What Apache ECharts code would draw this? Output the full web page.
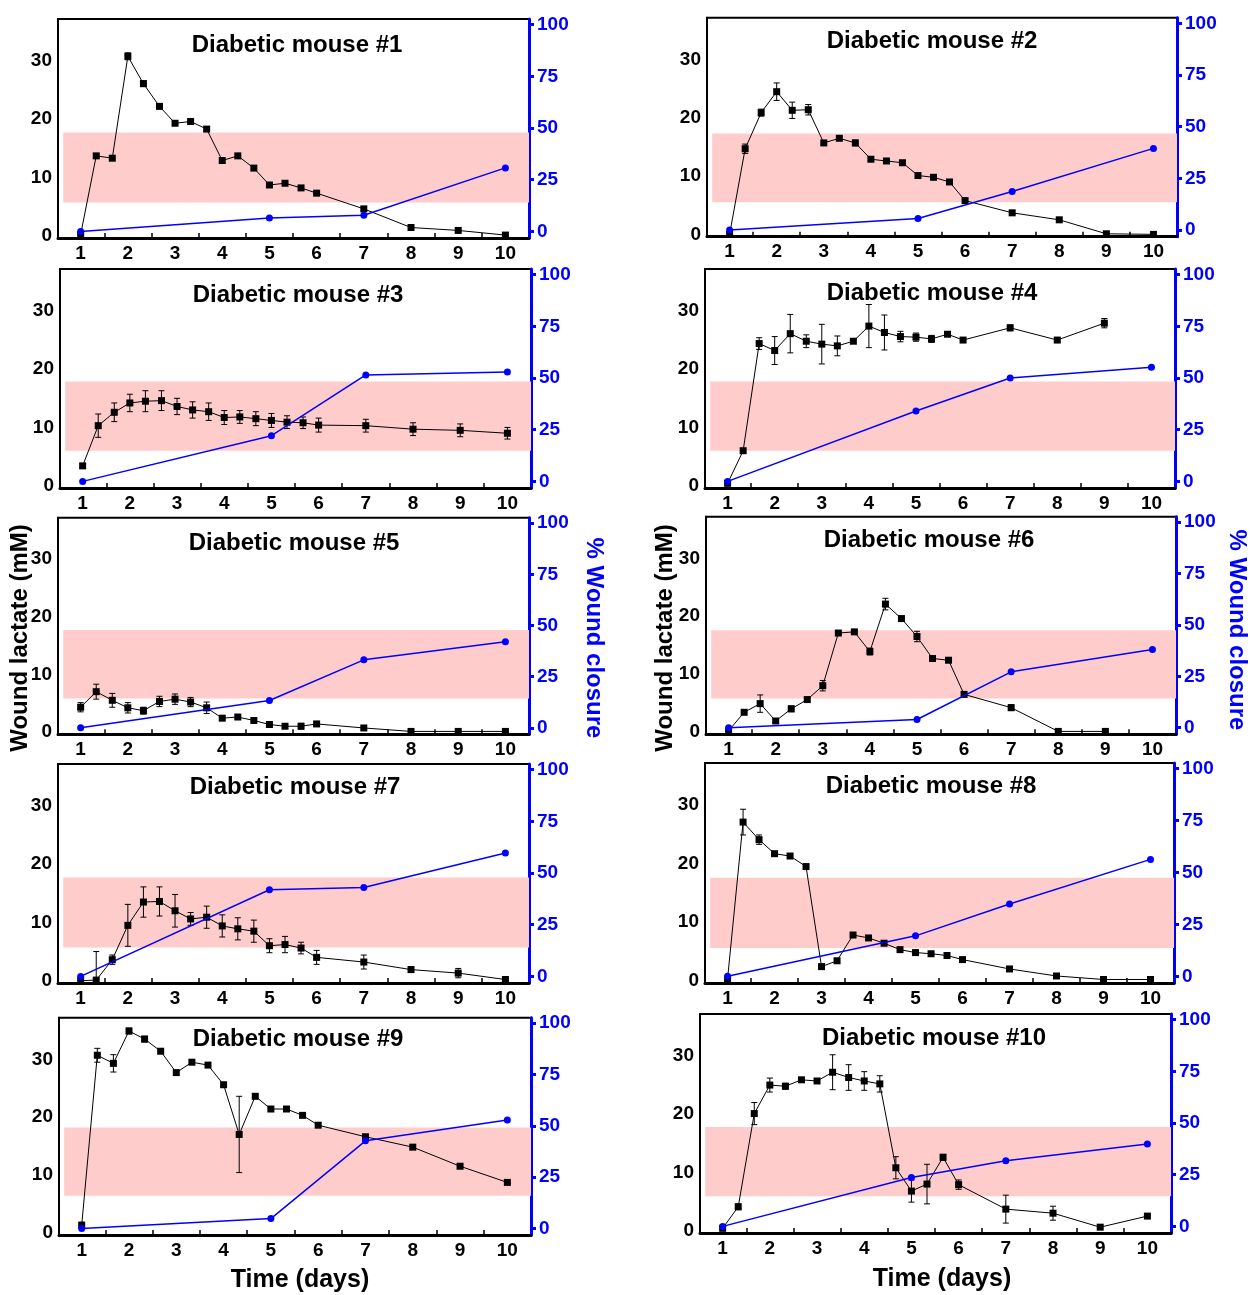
<!DOCTYPE html>
<html><head><meta charset="utf-8">
<script src="https://cdn.jsdelivr.net/npm/echarts@6/dist/echarts.min.js"></script>
<style>html,body{margin:0;padding:0;background:#fff}#c{width:1250px;height:1295px}</style>
</head><body><div id="c"></div>
<script>
// ---------------- data ----------------
const days = [1, 1.33, 1.67, 2, 2.33, 2.67, 3, 3.33, 3.67, 4, 4.33, 4.67, 5, 5.33, 5.67, 6, 7, 8, 9, 10];
const closureDays = [1, 5, 7, 10];
const xTickLabels = [1, 2, 3, 4, 5, 6, 7, 8, 9, 10];
const leftTickLabels = [0, 10, 20, 30];
const rightTickLabels = [0, 25, 50, 75, 100];
const titles = ['Diabetic mouse #1','Diabetic mouse #2','Diabetic mouse #3','Diabetic mouse #4','Diabetic mouse #5',
                'Diabetic mouse #6','Diabetic mouse #7','Diabetic mouse #8','Diabetic mouse #9','Diabetic mouse #10'];

const lactate1 = [0.2,13.7,13.3,30.8,26.1,22.2,19.3,19.6,18.3,12.9,13.7,11.6,8.7,9.0,8.2,7.3,4.6,1.4,0.9,0.1];
const err1     = [0,0.3,0.3,0.6,0.5,0.3,0.3,0.2,0.3,0.3,0.3,0.3,0.3,0.2,0.2,0.2,0.3,0.2,0.2,0.1];
const closure1 = [0,6.5,7.8,30.7];

const lactate2 = [0,14.7,20.9,24.5,21.3,21.4,15.7,16.5,15.7,12.9,12.6,12.3,10.1,9.8,9.0,5.8,3.7,2.5,0.1,0];
const err2     = [0,0.8,0.6,1.5,1.4,0.9,0.4,0.3,0.5,0.3,0.3,0.3,0.3,0.3,0.3,0.3,0.3,0.3,0.1,0.1];
const closure2 = [0,5.6,18.7,39.5];

const lactate3 = [3.4,10.3,12.6,14.2,14.5,14.6,13.6,13.0,12.7,11.7,11.8,11.5,11.2,10.9,10.8,10.4,10.3,9.7,9.5,9.0];
const err3     = [0.3,2.0,1.6,1.5,1.8,1.7,1.4,1.4,1.5,1.2,1.1,1.2,1.2,1.1,1.0,1.2,1.1,1.1,1.1,1.0];
const closure3 = [0,22.1,51.5,52.9];

const lactate4 = [0.4,6.0,24.4,23.2,26.1,24.8,24.3,24.0,24.8,27.4,26.3,25.6,25.5,25.2,26.0,25.0,27.1,25.0,27.9,null];
const err4     = [0,0.2,1.0,2.4,3.3,1.1,3.4,1.7,0.3,3.7,3.0,0.9,0.7,0.6,0.3,0.3,0.5,0.3,0.8,null];
const closure4 = [0,34.0,50.0,55.2];

const lactate5 = [4.3,7.0,5.5,4.2,3.7,5.3,5.7,5.2,4.2,2.4,2.6,2.0,1.3,1.0,1.0,1.4,0.7,0.1,0.1,0.1];
const err5     = [0.8,1.3,1.2,0.9,0.6,0.9,0.9,0.8,1.0,0.3,0.3,0.2,0.2,0.2,0.5,0.2,0.2,0.1,0.1,0.1];
const closure5 = [0,13.3,33.2,42.1];

const lactate6 = [0.2,3.4,4.9,1.9,4.0,5.6,8.0,17.1,17.3,13.9,22.1,19.6,16.5,12.7,12.4,6.5,4.2,0.1,0.1,null];
const err6     = [0.1,0.3,1.5,0.3,0.5,0.3,0.9,0.3,0.3,0.6,1.0,0.3,0.9,0.3,0.3,0.3,0.5,0.1,0.1,null];
const closure6 = [0,4.0,27.2,38.1];

const lactate7 = [0,0.1,3.6,9.5,13.5,13.6,12.0,10.6,10.9,9.4,8.9,8.5,6.0,6.2,5.6,4.0,3.2,1.9,1.3,0.2];
const err7     = [0,4.9,0.8,3.6,2.6,2.5,2.8,1.1,1.9,1.9,1.9,1.9,1.2,1.4,1.0,1.2,1.2,0.5,0.8,0.2];
const closure7 = [0,41.9,43.0,59.7];

const lactate8 = [0.3,27.1,24.1,21.7,21.3,19.5,2.4,3.4,7.8,7.3,6.4,5.3,4.8,4.6,4.3,3.6,2.0,0.8,0.2,0.2];
const err8     = [0,2.2,0.8,0.3,0.3,0.3,0.3,0.3,0.3,0.3,0.3,0.3,0.3,0.3,0.3,0.3,0.4,0.2,0.1,0.1];
const closure8 = [0,19.5,34.8,56.3];

const lactate9 = [1.3,30.7,29.3,34.9,33.5,31.4,27.7,29.5,29.0,25.6,17.0,23.6,21.4,21.4,20.3,18.6,16.6,14.8,11.5,8.7];
const err9     = [0.5,1.2,1.5,0.5,0.5,0.4,0.3,0.3,0.3,0.3,6.6,0.3,0.3,0.3,0.3,0.3,0.3,0.2,0.2,0.2];
const closure9 = [0,4.8,42.7,52.8];

const lactate10 = [0.4,4.1,20.1,25.0,24.8,25.9,25.7,27.2,26.3,25.7,25.2,10.8,6.8,8.0,12.6,7.9,3.7,3.0,0.6,2.5];
const err10     = [0.2,0.5,1.9,1.2,0.5,0.3,0.3,3.0,2.2,1.6,1.4,1.9,1.9,3.4,0.5,0.8,2.4,1.2,0.3,0.3];
const closure10 = [0,23.6,31.7,39.8];

const bandLow  = [5.7,5.5,6.0,6.0,5.8,5.8,5.7,5.6,6.4,5.9];
const bandHigh = [17.7,17.3,17.9,17.9,17.7,17.6,17.7,17.6,18.2,17.8];

const lactates = [lactate1,lactate2,lactate3,lactate4,lactate5,lactate6,lactate7,lactate8,lactate9,lactate10];
const errs = [err1,err2,err3,err4,err5,err6,err7,err8,err9,err10];
const closures = [closure1,closure2,closure3,closure4,closure5,closure6,closure7,closure8,closure9,closure10];

// ---------------- layout ----------------
const boxes = [
  [58,19,529,238],[707,17.7,1177,236.7],
  [60,269,531,488],[705,269,1175,488],
  [58,517.7,529,734.3],[706,516.7,1176,734.3],
  [58,764,529,983],[705,763,1174,983],
  [59,1017.7,531,1235],[700,1014,1171,1233]
];
const titleX = [297,932,298,932,294,929,295,931,298,934];
const titleOffsets = [26,24,26,24,26,24,23,23,22,24];

const FONT = '"Liberation Sans", Arial, sans-serif';
const BLUE = '#0000FF';
const grids = [], xAxes = [], yAxes = [], series = [], graphics = [];

function errRender(params, api) {
  const x = api.value(0), lo = api.value(1), hi = api.value(2);
  const a = api.coord([x, hi]), b = api.coord([x, lo]);
  const w = 3;
  const st = {stroke:'#000', lineWidth:1};
  return {type:'group', children:[
    {type:'line', shape:{x1:a[0],y1:a[1],x2:b[0],y2:b[1]}, style:st},
    {type:'line', shape:{x1:a[0]-w,y1:a[1],x2:a[0]+w,y2:a[1]}, style:st},
    {type:'line', shape:{x1:b[0]-w,y1:b[1],x2:b[0]+w,y2:b[1]}, style:st}
  ]};
}
function bandRender(params, api) {
  const a = api.coord([api.value(0), api.value(3)]);
  const b = api.coord([api.value(2), api.value(1)]);
  return {type:'rect', shape:{x:a[0], y:a[1], width:b[0]-a[0], height:b[1]-a[1]},
          style:{fill:'#FFCCCC'}};
}

for (let i = 0; i < 10; i++) {
  const [l, t, r, bt] = boxes[i];
  grids.push({left:l, top:t, width:r-l, height:bt-t, show:true, borderColor:'#000', borderWidth:2,
              backgroundColor:'transparent', containLabel:false});
  xAxes.push({type:'value', gridIndex:i, min:0.52, max:10.5, position:'bottom',
    axisLine:{show:true, onZero:false, lineStyle:{color:'#000', width:3}},
    axisTick:{show:true, inside:true, length:5, lineStyle:{color:'#000', width:1.5},
              customValues:[1.5,2.5,3.5,4.5,5.5,6.5,7.5,8.5,9.5]},
    axisLabel:{show:true, customValues:xTickLabels, color:'#000', fontFamily:FONT, fontWeight:'bold', fontSize:19, margin:6},
    splitLine:{show:false}
  });
  yAxes.push({type:'value', gridIndex:i, min:-0.4, max:37.2, position:'left',
    axisLine:{show:true, onZero:false, lineStyle:{color:'#000', width:2}},
    axisTick:{show:false},
    axisLabel:{show:true, customValues:leftTickLabels, color:'#000', fontFamily:FONT, fontWeight:'bold', fontSize:19, margin:6},
    splitLine:{show:false}
  });
  yAxes.push({type:'value', gridIndex:i, min:-3.2, max:102.7, position:'right',
    axisLine:{show:true, onZero:false, lineStyle:{color:BLUE, width:3}},
    axisTick:{show:true, inside:false, length:5, lineStyle:{color:BLUE, width:3}, customValues:rightTickLabels},
    axisLabel:{show:true, customValues:rightTickLabels, color:BLUE, fontFamily:FONT, fontWeight:'bold', fontSize:19, margin:8},
    splitLine:{show:false}
  });
  // band
  series.push({type:'custom', xAxisIndex:i, yAxisIndex:2*i, z:1, silent:true, clip:true,
    renderItem:bandRender, encode:{x:[0,2], y:[1,3]},
    data:[[0.63, bandLow[i], 10.5, bandHigh[i]]]});
  // error bars
  const ed = [];
  days.forEach((d, k) => {
    const v = lactates[i][k], e = errs[i][k];
    if (v != null && e) ed.push([d, v - e, v + e]);
  });
  series.push({type:'custom', xAxisIndex:i, yAxisIndex:2*i, z:3, silent:true, clip:true,
    renderItem:errRender, encode:{x:0, y:[1,2]}, data:ed});
  // lactate line
  series.push({type:'line', xAxisIndex:i, yAxisIndex:2*i, z:4, silent:true,
    data:days.map((d, k) => [d, lactates[i][k]]),
    symbol:'rect', symbolSize:7, showSymbol:true, connectNulls:false,
    itemStyle:{color:'#000'}, lineStyle:{color:'#000', width:1}});
  // closure line
  series.push({type:'line', xAxisIndex:i, yAxisIndex:2*i+1, z:5, silent:true,
    data:closureDays.map((d, k) => [d, closures[i][k]]),
    symbol:'circle', symbolSize:7, showSymbol:true,
    itemStyle:{color:BLUE}, lineStyle:{color:BLUE, width:1.5}});
  // title
  graphics.push({type:'text', x:titleX[i], y:t+titleOffsets[i], z:10, silent:true,
    style:{text:titles[i], font:'bold 24px ' + FONT, fill:'#000', align:'center', verticalAlign:'middle'}});
}

// axis names
graphics.push({type:'text', x:20, y:638, rotation:Math.PI/2, z:10, silent:true,
  style:{text:'Wound lactate (mM)', font:'bold 24px ' + FONT, fill:'#000', align:'center', verticalAlign:'middle'}});
graphics.push({type:'text', x:665, y:638, rotation:Math.PI/2, z:10, silent:true,
  style:{text:'Wound lactate (mM)', font:'bold 24px ' + FONT, fill:'#000', align:'center', verticalAlign:'middle'}});
graphics.push({type:'text', x:594, y:638, rotation:-Math.PI/2, z:10, silent:true,
  style:{text:'% Wound closure', font:'bold 24px ' + FONT, fill:BLUE, align:'center', verticalAlign:'middle'}});
graphics.push({type:'text', x:1237, y:630, rotation:-Math.PI/2, z:10, silent:true,
  style:{text:'% Wound closure', font:'bold 24px ' + FONT, fill:BLUE, align:'center', verticalAlign:'middle'}});
graphics.push({type:'text', x:300, y:1280, z:10, silent:true,
  style:{text:'Time (days)', font:'bold 25px ' + FONT, fill:'#000', align:'center', verticalAlign:'middle'}});
graphics.push({type:'text', x:942, y:1279, z:10, silent:true,
  style:{text:'Time (days)', font:'bold 25px ' + FONT, fill:'#000', align:'center', verticalAlign:'middle'}});

const chart = echarts.init(document.getElementById('c'), null, {renderer:'canvas'});
chart.setOption({
  animation:false,
  backgroundColor:'#fff',
  grid:grids, xAxis:xAxes, yAxis:yAxes, series:series, graphic:graphics
});
</script></body></html>
